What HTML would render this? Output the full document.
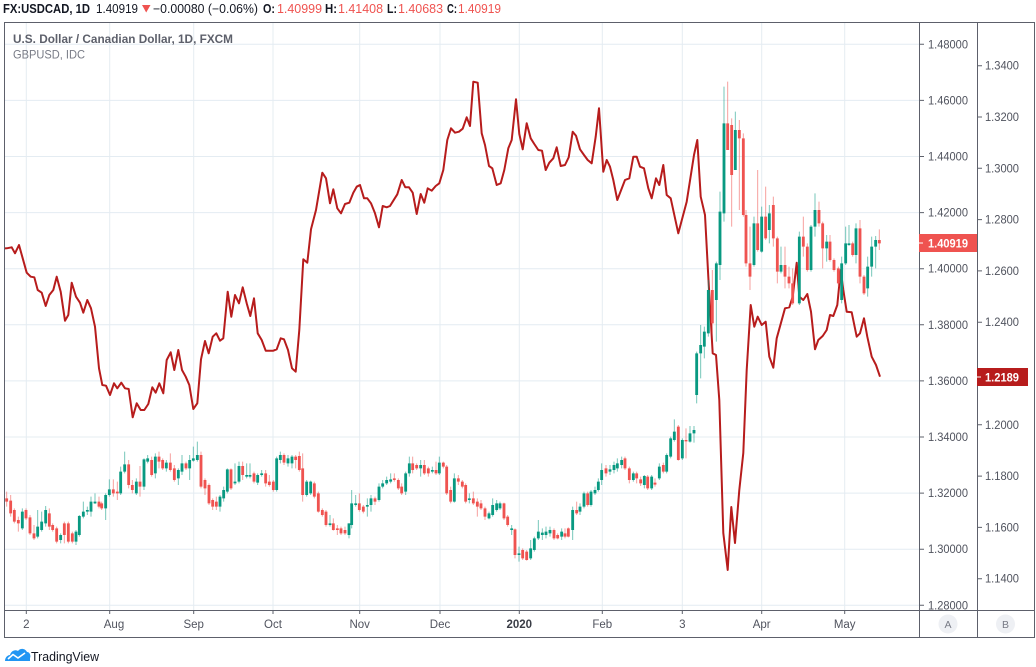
<!DOCTYPE html>
<html>
<head>
<meta charset="utf-8">
<style>
html,body{margin:0;padding:0;background:#fff;}
svg{display:block;}
text{font-family:"Liberation Sans",Arial,sans-serif;}
</style>
</head>
<body>
<svg width="1036" height="667" viewBox="0 0 1036 667" xmlns="http://www.w3.org/2000/svg">
<defs>
<clipPath id="pc"><rect x="5" y="23" width="914" height="587"/></clipPath>
</defs>
<rect x="0" y="0" width="1036" height="667" fill="#fff"/>

<!-- header -->
<g font-size="12.5" fill="#131722">
<text x="3" y="13" font-weight="bold" textLength="87" lengthAdjust="spacingAndGlyphs">FX:USDCAD, 1D</text>
<text x="96" y="13" textLength="42" lengthAdjust="spacingAndGlyphs">1.40919</text>
<polygon points="142,5 150.5,5 146.2,12.5" fill="#ef5350"/>
<text x="153" y="13" textLength="105" lengthAdjust="spacingAndGlyphs">−0.00080 (−0.06%)</text>
<text x="263" y="13" font-weight="bold" textLength="12" lengthAdjust="spacingAndGlyphs">O:</text>
<text x="277" y="13" fill="#ef5350" textLength="45" lengthAdjust="spacingAndGlyphs">1.40999</text>
<text x="325" y="13" font-weight="bold" textLength="12" lengthAdjust="spacingAndGlyphs">H:</text>
<text x="338" y="13" fill="#ef5350" textLength="45" lengthAdjust="spacingAndGlyphs">1.41408</text>
<text x="387" y="13" font-weight="bold" textLength="10" lengthAdjust="spacingAndGlyphs">L:</text>
<text x="398" y="13" fill="#ef5350" textLength="45" lengthAdjust="spacingAndGlyphs">1.40683</text>
<text x="447" y="13" font-weight="bold" textLength="10" lengthAdjust="spacingAndGlyphs">C:</text>
<text x="458" y="13" fill="#ef5350" textLength="43" lengthAdjust="spacingAndGlyphs">1.40919</text>
</g>

<!-- grid -->
<g stroke="#e4ecf2" stroke-width="1">
<path d="M5 44.3H919M5 100.4H919M5 156.5H919M5 212.6H919M5 268.7H919M5 324.8H919M5 380.9H919M5 437H919M5 493.1H919M5 549.2H919M5 605.3H919"/>
<path d="M26.3 23V610M109.7 23V610M193.7 23V610M273 23V610M359.7 23V610M440 23V610M519.3 23V610M602.3 23V610M682.3 23V610M761.7 23V610M844.7 23V610"/>
</g>

<!-- legend -->
<text x="13" y="43" font-size="12" font-weight="bold" fill="#5d606b" textLength="220" lengthAdjust="spacingAndGlyphs">U.S. Dollar / Canadian Dollar, 1D, FXCM</text>
<text x="13" y="58.5" font-size="12" fill="#787b86" textLength="72" lengthAdjust="spacingAndGlyphs">GBPUSD, IDC</text>

<g clip-path="url(#pc)">
<!-- GBPUSD line -->
<polyline fill="none" stroke="#b71c1c" stroke-width="2" stroke-linejoin="round" points="4,248.5 6.7,248.3 11.7,247.3 15,253.3 19,245 22.7,258.3 26.7,272.7 30.7,276.7 34.3,277.3 37.7,290 41.7,292.7 45.7,306 49.3,295 53.3,290 56.7,276.7 60.7,291.7 65,320.7 68.3,315 71.7,282.7 76,296.7 80,302.7 83.3,312.7 87.3,300 91,308.3 95,326.7 99,368.3 102.3,385 106,385.7 110,395 114,383.3 117.3,388.3 121.3,382.7 125,388.3 128.7,389 132.7,417.3 136.7,403.3 140.7,410 144.3,410 148.3,404 152.3,387.3 155.7,392.7 159.3,383.3 163.3,393.3 166.7,360 170.7,352.3 174.3,370 178.3,350 182,370 185.7,376.7 189.3,385 193.3,409 197.3,403.3 201,359.3 205,341 208.7,353.3 212.7,336.7 216.3,333.3 220,340.7 223.3,338.3 227.7,291.7 231.3,316.7 235,295 239,303.3 242.7,287.3 246.7,303.3 250.3,316 254,298.3 257.7,333.3 261.7,340 265.7,350.7 269.3,350.7 273.3,350.7 276.7,349.3 280.7,338.3 284,339.3 288,350 292,368.3 295.7,371.7 299.3,330 303.3,259.3 307.3,262.7 311,229.3 316,210 322.3,172.7 326,178.3 330,203.3 333.3,189.3 337.3,208.3 341,213.3 345,204 349.3,202.7 353.3,192.7 356.7,186.7 360,185 364,198.3 367.3,198.3 371,203.3 375,213.3 379,227.3 382.7,206 386.7,207.3 390,206 393.3,200.7 397.3,194.3 401.7,180 405.3,187.3 409,187.3 412.7,192.7 416.7,214 420.7,194 424.3,202.7 427.7,188.3 431.7,190.7 435.7,186 439.3,183.3 443.3,170 447.3,140 451,128.3 455,132.7 459,131.7 462.7,128.7 466.7,117.3 470,126 473.3,81.7 477.7,82.7 481.7,133.3 485,145 489,166 492.3,168.3 496.7,185 500.7,183.3 504.3,170 508.3,148.3 511.7,140 516,99.3 519.3,134 522.7,149.3 526.7,123.3 530.7,138.3 534.3,144 538.3,150 542,150.7 545.7,170 549.3,162.7 553.3,158.3 556.7,147.3 560.7,166 565,165 568.7,157.3 572.7,131.7 576,135.7 580,149.3 584,155 587.7,160 591.7,163.3 595.7,136.7 599,108.3 603.3,171.7 606.7,160 610,166.7 613.3,180 617.3,200 625,180 629.3,178.3 633.3,156.7 636.7,156.7 640,166.7 644,168.3 648.3,188.3 651.7,198.3 656,178.3 659.3,185 663.3,165 666.7,195 670.7,198.3 678.3,233.3 686.7,201.7 694,155 697.3,140 700.7,196.7 705,215 708.3,276.7 712.7,353.3 716,355 719.3,400 723.3,533 727.7,570 731.3,507 735,543 739.3,490 743.3,453 746.7,370 750.7,305 754.3,326.7 757.7,316.7 761.7,325 765.7,321.7 769.3,356.7 773.3,367.7 776.7,338.3 785,308.3 789.3,307.3 792.7,296.7 796.7,262.7 799.3,296.7 803.3,300 807.3,294 811,311.7 815,349.3 818.3,340 822.7,336 826.7,330 830,315 833.3,316 837.3,305 840.7,270 843.3,290 846.7,311.7 851.7,312.3 856.7,336.7 860,333.3 864,318.3 867.3,336.7 871.7,356.7 876,365 880,376.7"/>

<!-- candles group A -->
<g transform="translate(0,430) scale(0.333333)" fill="none">
<path stroke="#089981" stroke-opacity="0.55" stroke-width="3" d="M67 235V300 M113 240V325 M125 245V305 M137 228V290 M182 310V340 M228 300V345 M238 255V320 M250 215V265 M262 230V255 M273 200V260 M285 190V222 M317 190V270 M328 148V200 M362 110V195 M374 65V130 M409 145V195 M432 85V180 M443 75V100 M466 70V145 M499 90V125 M535 115V165 M546 75V135 M569 75V150 M580 50V95 M592 35V95 M660 195V245 M671 170V215 M682 115V190 M705 100V165 M717 95V160 M740 100V145 M750 100V145 M773 130V165 M785 120V140 M830 80V185 M841 65V100 M864 75V110 M876 75V115"/>
<path stroke="#089981" stroke-width="8.5" d="M67 245V295 M113 290V320 M125 275V300 M137 240V280 M182 315V330 M228 305V335 M238 258V315 M250 245V260 M262 240V245 M273 215V245 M285 215V220 M317 195V235 M328 178V195 M362 125V190 M374 103V125 M409 155V190 M432 88V170 M443 85V95 M466 80V130 M499 98V115 M535 120V145 M546 100V125 M569 90V115 M580 85V92 M592 75V90 M660 200V230 M671 180V205 M682 118V185 M705 155V160 M717 108V155 M740 135V140 M750 135V140 M773 135V158 M785 130V135 M830 85V180 M841 75V90 M864 85V100 M876 80V100"/>
<path stroke="#ef5350" stroke-opacity="0.55" stroke-width="3" d="M20 185V230 M32 195V260 M43 235V280 M55 260V305 M78 235V270 M90 255V315 M102 285V330 M148 235V300 M158 280V305 M170 290V340 M193 275V340 M205 275V340 M217 305V340 M297 200V235 M305 215V240 M340 148V200 M352 155V210 M386 90V175 M397 150V190 M420 108V200 M455 80V140 M477 65V115 M488 85V120 M511 70V125 M523 105V155 M558 95V120 M603 65V175 M615 145V195 M627 160V225 M638 205V240 M649 200V240 M693 115V180 M728 95V150 M762 125V160 M797 120V170 M808 135V170 M820 150V185 M852 70V105 M887 75V115 M898 65V125"/>
<path stroke="#ef5350" stroke-width="8.5" d="M20 205V215 M32 212V250 M43 240V275 M55 270V280 M78 240V265 M90 262V310 M102 310V325 M148 250V290 M158 285V300 M170 295V335 M193 280V315 M205 280V335 M217 310V335 M297 215V230 M305 220V235 M340 178V190 M352 185V190 M386 103V165 M397 165V180 M420 155V170 M455 90V135 M477 80V95 M488 90V115 M511 98V120 M523 115V150 M558 100V115 M603 75V170 M615 150V175 M627 165V220 M638 210V230 M649 215V230 M693 118V175 M728 108V135 M762 130V155 M797 130V160 M808 155V165 M820 155V180 M852 75V98 M887 80V90 M898 78V120"/>
</g>

<!-- candles group B -->
<g transform="translate(300,440) scale(0.333333)" fill="none">
<path stroke="#089981" stroke-opacity="0.55" stroke-width="3" d="M20 120V170 M32 122V165 M90 225V260 M147 250V295 M155 150V265 M167 165V200 M202 175V230 M213 165V215 M237 130V185 M248 120V145 M260 110V135 M272 100V130 M317 95V165 M328 50V110 M362 60V110 M397 80V100 M418 50V105 M463 100V188 M508 160V190 M567 215V238 M578 175V230 M590 180V215 M600 185V210 M635 255V285 M657 320V365 M692 300V360 M703 290V335 M715 240V300 M727 265V300 M738 260V295 M750 260V290 M785 265V300 M818 200V300 M840 190V225 M852 155V205 M873 150V200 M885 140V165 M895 115V155"/>
<path stroke="#089981" stroke-width="8.5" d="M20 125V165 M32 125V160 M90 250V255 M147 250V285 M155 190V255 M167 190V195 M202 195V200 M213 175V195 M237 140V180 M248 130V140 M260 120V130 M272 118V125 M317 100V155 M328 70V100 M362 75V85 M397 90V95 M418 68V100 M463 115V185 M508 175V180 M567 220V235 M578 195V225 M590 190V210 M600 190V205 M635 265V270 M657 340V345 M692 325V355 M703 295V330 M715 275V295 M727 278V285 M738 275V285 M750 270V280 M785 275V290 M818 210V270 M840 200V215 M852 160V200 M873 155V195 M885 150V160 M895 125V150"/>
<path stroke="#ef5350" stroke-opacity="0.55" stroke-width="3" d="M8 40V185 M43 125V175 M55 155V218 M67 205V230 M78 210V260 M100 235V272 M112 255V285 M123 260V285 M135 260V285 M178 160V215 M190 195V220 M225 170V195 M283 100V125 M295 115V150 M305 130V165 M338 50V100 M350 70V90 M373 60V105 M385 80V110 M408 65V105 M430 65V85 M440 75V165 M452 140V190 M475 105V135 M487 120V145 M497 130V190 M520 155V195 M532 175V230 M543 180V210 M555 200V240 M612 188V240 M623 225V260 M645 265V355 M668 325V360 M680 330V362 M762 265V300 M773 280V298 M795 265V295 M805 262V292 M830 185V225 M863 155V200"/>
<path stroke="#ef5350" stroke-width="8.5" d="M8 85V165 M43 130V170 M55 160V215 M67 210V225 M78 215V255 M100 250V270 M112 265V270 M123 265V280 M135 270V280 M178 190V210 M190 200V215 M225 175V185 M283 115V120 M295 120V145 M305 140V160 M338 70V90 M350 75V85 M373 75V100 M385 85V100 M408 90V100 M430 68V80 M440 80V160 M452 150V185 M475 115V125 M487 125V140 M497 135V185 M520 175V190 M532 185V200 M543 190V205 M555 205V230 M612 190V235 M623 230V255 M645 268V345 M668 330V355 M680 335V360 M762 270V295 M773 285V295 M795 280V290 M805 265V290 M830 210V220 M863 160V195"/>
</g>

<!-- candles group C -->
<g transform="translate(600,70) scale(0.333333)" fill="none">
<path stroke="#089981" stroke-opacity="0.55" stroke-width="3" d="M5 1180V1245 M30 1185V1215 M42 1175V1210 M52 1165V1205 M65 1160V1195 M100 1205V1235 M133 1215V1255 M155 1215V1260 M178 1180V1230 M200 1150V1210 M212 1100V1165 M223 1048V1115 M247 1105V1170 M270 1068V1118 M282 1068V1118 M290 845V1000 M302 765V925 M313 770V865 M325 630V800 M349 575V815 M360 365V630 M372 50V455 M406 125V300 M462 440V590 M485 410V548 M508 405V520 M543 530V610 M598 485V705 M633 465V605 M645 370V500 M680 495V575 M725 560V700 M737 470V585 M747 465V528 M768 460V580 M803 560V680 M815 500V620 M827 498V595"/>
<path stroke="#089981" stroke-width="8.5" d="M5 1200V1230 M30 1198V1205 M42 1185V1200 M52 1180V1195 M65 1170V1185 M100 1210V1230 M133 1218V1245 M155 1220V1255 M178 1190V1225 M200 1155V1205 M212 1105V1160 M223 1085V1110 M247 1110V1165 M270 1090V1115 M282 1080V1090 M290 850V975 M302 825V850 M313 785V830 M325 660V790 M349 580V690 M360 425V585 M372 160V430 M406 180V300 M462 460V585 M485 440V545 M508 430V480 M543 585V605 M598 500V700 M633 470V600 M645 420V470 M680 515V535 M725 580V690 M737 520V580 M747 520V525 M768 475V555 M803 590V655 M815 530V590 M827 510V530"/>
<path stroke="#ef5350" stroke-opacity="0.55" stroke-width="3" d="M18 1185V1220 M75 1160V1200 M88 1190V1240 M110 1205V1240 M122 1220V1248 M143 1215V1260 M165 1225V1250 M190 1178V1210 M235 1065V1172 M258 1075V1165 M337 600V790 M383 35V240 M395 145V470 M418 150V420 M430 190V440 M438 420V590 M450 470V660 M473 300V545 M497 350V510 M520 380V530 M532 500V640 M555 530V655 M567 590V655 M578 595V705 M610 440V560 M622 520V605 M657 395V470 M668 455V595 M690 495V575 M702 565V605 M715 590V650 M758 515V560 M780 450V640 M792 615V675 M838 478V540"/>
<path stroke="#ef5350" stroke-width="8.5" d="M18 1195V1210 M75 1165V1195 M88 1195V1230 M110 1210V1225 M122 1228V1240 M143 1220V1255 M165 1238V1244 M190 1185V1205 M235 1070V1170 M258 1110V1114 M337 660V760 M383 160V240 M395 165V315 M418 180V205 M430 205V435 M438 435V580 M450 580V620 M473 460V540 M497 440V505 M520 405V505 M532 505V605 M555 585V620 M567 620V640 M578 640V700 M610 500V530 M622 530V600 M657 420V460 M668 460V535 M690 515V570 M702 570V600 M715 595V640 M758 520V555 M780 475V620 M792 620V670 M838 510V520"/>
</g>
</g>

<!-- frame -->
<g stroke="#5d606b" stroke-width="1" fill="none">
<rect x="4.5" y="22.5" width="1030" height="615"/>
<path d="M919.5 22V638M977.5 22V638M4 610.5H1035"/>
<!-- price ticks -->
<path d="M919 44.3H924M919 100.4H924M919 156.5H924M919 212.6H924M919 268.7H924M919 324.8H924M919 380.9H924M919 437H924M919 493.1H924M919 549.2H924M919 605.3H924"/>
<path d="M977 65.7H982M977 117H982M977 168.3H982M977 219.6H982M977 270.9H982M977 322.2H982M977 424.8H982M977 476.1H982M977 527.4H982M977 578.7H982"/>
<!-- time ticks -->
<path d="M26.3 610V614M109.7 610V614M193.7 610V614M273 610V614M359.7 610V614M440 610V614M519.3 610V614M602.3 610V614M682.3 610V614M761.7 610V614M844.7 610V614"/>
</g>

<!-- axis A labels -->
<g font-size="11.5" fill="#50535e">
<text x="928" y="48.3" textLength="40" lengthAdjust="spacingAndGlyphs">1.48000</text>
<text x="928" y="104.4" textLength="40" lengthAdjust="spacingAndGlyphs">1.46000</text>
<text x="928" y="160.5" textLength="40" lengthAdjust="spacingAndGlyphs">1.44000</text>
<text x="928" y="216.6" textLength="40" lengthAdjust="spacingAndGlyphs">1.42000</text>
<text x="928" y="272.7" textLength="40" lengthAdjust="spacingAndGlyphs">1.40000</text>
<text x="928" y="328.8" textLength="40" lengthAdjust="spacingAndGlyphs">1.38000</text>
<text x="928" y="384.9" textLength="40" lengthAdjust="spacingAndGlyphs">1.36000</text>
<text x="928" y="441" textLength="40" lengthAdjust="spacingAndGlyphs">1.34000</text>
<text x="928" y="497.1" textLength="40" lengthAdjust="spacingAndGlyphs">1.32000</text>
<text x="928" y="553.2" textLength="40" lengthAdjust="spacingAndGlyphs">1.30000</text>
<text x="928" y="609.3" textLength="40" lengthAdjust="spacingAndGlyphs">1.28000</text>
</g>
<!-- axis B labels -->
<g font-size="11.5" fill="#50535e">
<text x="985" y="69.7" textLength="34" lengthAdjust="spacingAndGlyphs">1.3400</text>
<text x="985" y="121" textLength="34" lengthAdjust="spacingAndGlyphs">1.3200</text>
<text x="985" y="172.3" textLength="34" lengthAdjust="spacingAndGlyphs">1.3000</text>
<text x="985" y="223.6" textLength="34" lengthAdjust="spacingAndGlyphs">1.2800</text>
<text x="985" y="274.9" textLength="34" lengthAdjust="spacingAndGlyphs">1.2600</text>
<text x="985" y="326.2" textLength="34" lengthAdjust="spacingAndGlyphs">1.2400</text>
<text x="985" y="428.8" textLength="34" lengthAdjust="spacingAndGlyphs">1.2000</text>
<text x="985" y="480.1" textLength="34" lengthAdjust="spacingAndGlyphs">1.1800</text>
<text x="985" y="531.4" textLength="34" lengthAdjust="spacingAndGlyphs">1.1600</text>
<text x="985" y="582.7" textLength="34" lengthAdjust="spacingAndGlyphs">1.1400</text>
</g>

<!-- price labels -->
<rect x="919" y="234" width="58" height="18" fill="#ef5350"/>
<path d="M919 243H923" stroke="#fff" stroke-width="1"/>
<text x="928" y="247.3" font-size="11.5" font-weight="bold" fill="#fff" textLength="40" lengthAdjust="spacingAndGlyphs">1.40919</text>
<rect x="977" y="368" width="51" height="18" fill="#b71c1c"/>
<path d="M977 377H981" stroke="#fff" stroke-width="1"/>
<text x="985" y="381.3" font-size="11.5" font-weight="bold" fill="#fff" textLength="34" lengthAdjust="spacingAndGlyphs">1.2189</text>

<!-- time labels -->
<g font-size="11.5" fill="#50535e" text-anchor="middle">
<text x="26.3" y="628">2</text>
<text x="114" y="628">Aug</text>
<text x="193.7" y="628">Sep</text>
<text x="273" y="628">Oct</text>
<text x="359.7" y="628">Nov</text>
<text x="440" y="628">Dec</text>
<text x="519.3" y="628" font-weight="bold" fill="#3a3d46">2020</text>
<text x="602.3" y="628">Feb</text>
<text x="682.3" y="628">3</text>
<text x="761.7" y="628">Apr</text>
<text x="844.7" y="628">May</text>
</g>

<!-- A / B buttons -->
<circle cx="948" cy="624" r="9.5" fill="#eef0f4"/>
<text x="948" y="628" font-size="10.5" fill="#787b86" text-anchor="middle">A</text>
<circle cx="1005.5" cy="624" r="9.5" fill="#eef0f4"/>
<text x="1005.5" y="628" font-size="10.5" fill="#787b86" text-anchor="middle">B</text>

<!-- TradingView logo -->
<g>
<path d="M5 661 C5 657 8 655 10 655 C11 651 15 649 18 651 C20 648 25 648 27 652 C30 652 31 656 30 658 L30 661 Z" fill="#2196f3"/>
<path d="M8 659 L13 654.5 L18 658 L25 653" stroke="#fff" stroke-width="1.6" fill="none" stroke-linejoin="round"/>
<text x="31" y="661" font-size="13" fill="#131722" textLength="68" lengthAdjust="spacingAndGlyphs">TradingView</text>
</g>
</svg>
</body>
</html>
